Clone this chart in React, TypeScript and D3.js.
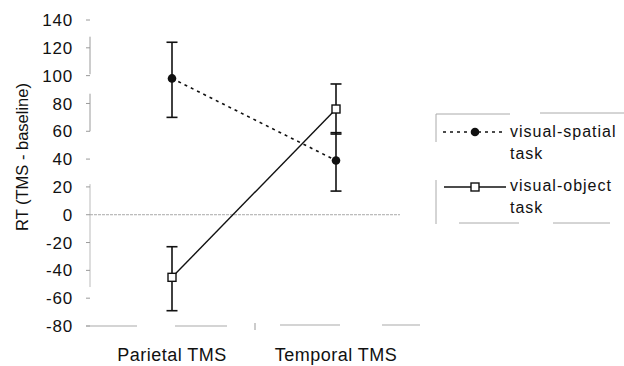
import React from "react";
import * as d3 from "d3";

const conditions = ["Parietal TMS", "Temporal TMS"];
const spatialMeans = [98, 39];
const spatialLow = [70, 17];
const spatialHigh = [124, 59];
const objectMeans = [-45, 76];
const objectLow = [-69, 58];
const objectHigh = [-23, 94];
const yTicks = [140, 120, 100, 80, 60, 40, 20, 0, -20, -40, -60, -80];
const seriesNames = ["visual-spatial", "visual-object"];

const W = 624;
const H = 366;

export default function App() {
  const y = d3.scaleLinear().domain([-80, 140]).range([326, 20]);
  const x = d3.scalePoint<string>().domain(conditions).range([172, 336]);
  const font = "'Liberation Sans', Arial, sans-serif";
  const axisX = 90;
  const grey = "#9a9a9a";

  const spatialPts: [number, number][] = conditions.map((c, i) => [x(c)!, y(spatialMeans[i])]);
  const objectPts: [number, number][] = conditions.map((c, i) => [x(c)!, y(objectMeans[i])]);
  const line = d3.line();

  const errBar = (cx: number, lo: number, hi: number, key: string) => (
    <g key={key} stroke="#111" strokeWidth={1.6}>
      <line x1={cx} x2={cx} y1={y(lo)} y2={y(hi)} />
      <line x1={cx - 5.5} x2={cx + 5.5} y1={y(lo)} y2={y(lo)} />
      <line x1={cx - 5.5} x2={cx + 5.5} y1={y(hi)} y2={y(hi)} />
    </g>
  );

  return (
    <div style={{ position: "absolute", left: 0, top: 0 }}>
      <svg width={W} height={H} style={{ display: "block", background: "#fff" }}>
        {/* y axis (broken, faint) */}
        <line x1={axisX} x2={axisX} y1={y(128)} y2={y(101)} stroke={grey} strokeWidth={1} />
        <line x1={axisX} x2={axisX} y1={y(87)} y2={y(60)} stroke={grey} strokeWidth={1} />
        <line x1={axisX} x2={axisX} y1={y(22)} y2={y(-52)} stroke="#bbb" strokeWidth={1} />
        {yTicks.map((t) => (
          <g key={t}>
            <line x1={axisX - 4} x2={axisX} y1={y(t)} y2={y(t)} stroke={grey} strokeWidth={1} />
            <text
              x={73}
              y={y(t)}
              dy="0.36em"
              textAnchor="end"
              fontFamily={font}
              fontSize={17}
              letterSpacing={0.8}
              fill="#111"
            >
              {t}
            </text>
          </g>
        ))}
        <text
          transform="translate(28,157) rotate(-90)"
          textAnchor="middle"
          fontFamily={font}
          fontSize={16.5}
          fill="#111"
        >
          RT (TMS - baseline)
        </text>

        {/* zero line */}
        <line
          x1={axisX}
          x2={400}
          y1={y(0)}
          y2={y(0)}
          stroke="#aaa"
          strokeWidth={1}
          strokeDasharray="3 1"
        />

        {/* x axis (broken, faint) */}
        <g stroke="#aaa" strokeWidth={1.2}>
          <line x1={86} x2={137} y1={y(-80)} y2={y(-80)} />
          <line x1={175} x2={227} y1={y(-80)} y2={y(-80)} />
          <line x1={255} x2={255} y1={y(-80) - 3} y2={y(-80) + 4} />
          <line x1={280} x2={340} y1={y(-80) - 1} y2={y(-80) - 1} />
          <line x1={382} x2={420} y1={y(-80) - 1} y2={y(-80) - 1} />
        </g>
        {conditions.map((c) => (
          <text
            key={c}
            x={x(c)!}
            y={361}
            textAnchor="middle"
            fontFamily={font}
            fontSize={18}
            letterSpacing={0.5}
            fill="#111"
          >
            {c}
          </text>
        ))}

        {/* series lines */}
        <path d={line(spatialPts)!} fill="none" stroke="#111" strokeWidth={1.6} strokeDasharray="3 4" />
        <path d={line(objectPts)!} fill="none" stroke="#111" strokeWidth={1.4} />

        {/* error bars */}
        {conditions.map((c, i) => errBar(x(c)!, spatialLow[i], spatialHigh[i], "s" + i))}
        {conditions.map((c, i) => errBar(x(c)!, objectLow[i], objectHigh[i], "o" + i))}

        {/* markers */}
        {spatialPts.map(([px, py], i) => (
          <circle key={"sc" + i} cx={px} cy={py} r={4.3} fill="#111" />
        ))}
        {objectPts.map(([px, py], i) => (
          <rect
            key={"or" + i}
            x={px - 4}
            y={py - 4}
            width={8}
            height={8}
            fill="#fff"
            stroke="#111"
            strokeWidth={1.4}
          />
        ))}

        {/* legend */}
        <g stroke="#aaa" strokeWidth={1}>
          <line x1={436} x2={510} y1={114} y2={114} />
          <line x1={540} x2={624} y1={113} y2={113} />
          <line x1={436} x2={436} y1={114} y2={142} />
          <line x1={436} x2={436} y1={180} y2={224} />
          <line x1={459} x2={519} y1={223} y2={223} />
          <line x1={553} x2={610} y1={223} y2={223} />
        </g>
        <line x1={443} x2={504} y1={132} y2={132} stroke="#111" strokeWidth={1.6} strokeDasharray="3 4" />
        <circle cx={475} cy={132} r={4.3} fill="#111" />
        <line x1={444} x2={506} y1={187} y2={187} stroke="#111" strokeWidth={1.4} />
        <rect x={471} y={183} width={8} height={8} fill="#fff" stroke="#111" strokeWidth={1.4} />
        {seriesNames.map((s, i) => (
          <text
            key={s}
            x={510}
            y={i === 0 ? 137 : 191}
            fontFamily={font}
            fontSize={16}
            letterSpacing={1}
            fill="#111"
          >
            <tspan x={510}>{s}</tspan>
            <tspan x={510} dy={22}>
              task
            </tspan>
          </text>
        ))}
      </svg>
    </div>
  );
}
